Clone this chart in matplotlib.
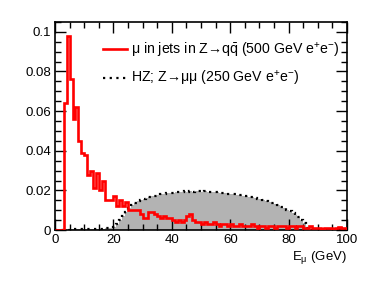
import numpy as np
import matplotlib
matplotlib.use("Agg")
import matplotlib.pyplot as plt
from matplotlib.ticker import MultipleLocator
from matplotlib.lines import Line2D

plt.rcParams['font.family'] = ['Liberation Sans', 'DejaVu Sans']
plt.rcParams['mathtext.fontset'] = 'custom'
plt.rcParams['mathtext.rm'] = 'Liberation Sans'
plt.rcParams['mathtext.it'] = 'Liberation Sans'

# 1 GeV bins, 0..100
edges = np.arange(0, 101, 1)

# mu in jets in Z->qqbar (500 GeV e+e-)
mu_jets = [
    0, 0, 0, 0.064, 0.098, 0.076, 0.056, 0.062, 0.045, 0.039,
    0.038, 0.028, 0.030, 0.021, 0.029, 0.020, 0.025, 0.015, 0.015, 0.015,
    0.017, 0.012, 0.015, 0.012, 0.014, 0.010, 0.010, 0.010, 0.010, 0.008,
    0.006, 0.006, 0.009, 0.009, 0.008, 0.007, 0.006, 0.007, 0.006, 0.006,
    0.005, 0.004, 0.005, 0.004, 0.005, 0.007, 0.008, 0.005, 0.004, 0.004,
    0.003, 0.004, 0.003, 0.003, 0.004, 0.003, 0.002, 0.003, 0.003, 0.002,
    0.003, 0.002, 0.002, 0.003, 0.002, 0.002, 0.002, 0.003, 0.002, 0.001,
    0.002, 0.002, 0.001, 0.002, 0.002, 0.001, 0.002, 0.002, 0.002, 0.001,
    0.002, 0.002, 0.001, 0.002, 0.002, 0.001, 0.001, 0.002, 0.001, 0.001,
    0.001, 0.0005, 0.001, 0.001, 0.001, 0.0005, 0.001, 0.0015, 0.001, 0.001,
]

# HZ; Z->mumu (250 GeV e+e-)
hz_mumu = [
    0, 0, 0, 0, 0, 0.0005, 0.0005, 0.0005, 0.0005, 0.0005,
    0.0005, 0.0005, 0.0005, 0.0005, 0.0005, 0.0005, 0.0008, 0.001, 0.001, 0.0012,
    0.0015, 0.003, 0.005, 0.007, 0.009, 0.011, 0.0125, 0.0135, 0.0145, 0.015,
    0.0158, 0.016, 0.0165, 0.017, 0.0172, 0.0178, 0.018, 0.0183, 0.0185, 0.0188,
    0.0188, 0.019, 0.0192, 0.0191, 0.0195, 0.0193, 0.0196, 0.0194, 0.0195, 0.0196,
    0.0194, 0.0195, 0.0193, 0.0194, 0.0192, 0.0191, 0.0189, 0.0188, 0.0186, 0.0183,
    0.0182, 0.018, 0.0178, 0.0176, 0.0173, 0.0171, 0.0168, 0.0165, 0.0162, 0.0158,
    0.0155, 0.015, 0.0146, 0.0141, 0.0136, 0.013, 0.0125, 0.0118, 0.011, 0.0102,
    0.0095, 0.0088, 0.0078, 0.0066, 0.0052, 0.0035, 0.0012, 0, 0, 0,
    0, 0, 0, 0, 0, 0, 0, 0, 0, 0,
]

label_jets = 'μ in jets in Z→q$\\mathregular{\\bar{q}}$ (500 GeV e$^{+}$e$^{-}$)'
label_hz = 'HZ; Z→μμ (250 GeV e$^{+}$e$^{-}$)'

fig = plt.figure(figsize=(3.9, 2.81), dpi=100)
ax = fig.add_axes([0.141, 0.181, 0.749, 0.741])

ax.stairs(hz_mumu, edges, fill=True, color='#b3b3b3', zorder=1)
ax.stairs(hz_mumu, edges, color='black', linestyle=(0, (1, 2)), linewidth=1.6, zorder=2)
ax.stairs(mu_jets, edges, color='red', linewidth=1.9, zorder=3)

ax.set_xlim(0, 100)
ax.set_ylim(0, 0.105)
ax.xaxis.set_major_locator(MultipleLocator(20))
ax.xaxis.set_minor_locator(MultipleLocator(5))
ax.yaxis.set_minor_locator(MultipleLocator(0.005))
ax.set_yticks([0, 0.02, 0.04, 0.06, 0.08, 0.1])
ax.set_yticklabels(['0', '0.02', '0.04', '0.06', '0.08', '0.1'])
ax.tick_params(which='both', direction='in', top=True, right=True, labelsize=9.5, width=1)
ax.tick_params(which='major', length=8, pad=3)
ax.tick_params(which='minor', length=4)
for s in ax.spines.values():
    s.set_linewidth(1.2)

ax.set_xlabel('E$_{\\mathregular{μ}}$ (GeV)', fontsize=9.5, loc='right', labelpad=2)

handles = [Line2D([], [], color='red', linewidth=1.9),
           Line2D([], [], color='black', linestyle=(0, (1, 2)), linewidth=1.6)]
ax.legend(handles, [label_jets, label_hz], loc='upper left', bbox_to_anchor=(0.164, 0.91),
          borderaxespad=0, borderpad=0, frameon=False, fontsize=10.2,
          handlelength=1.7, handletextpad=0.3, labelspacing=0.65)

fig.savefig('out.png', dpi=100)
